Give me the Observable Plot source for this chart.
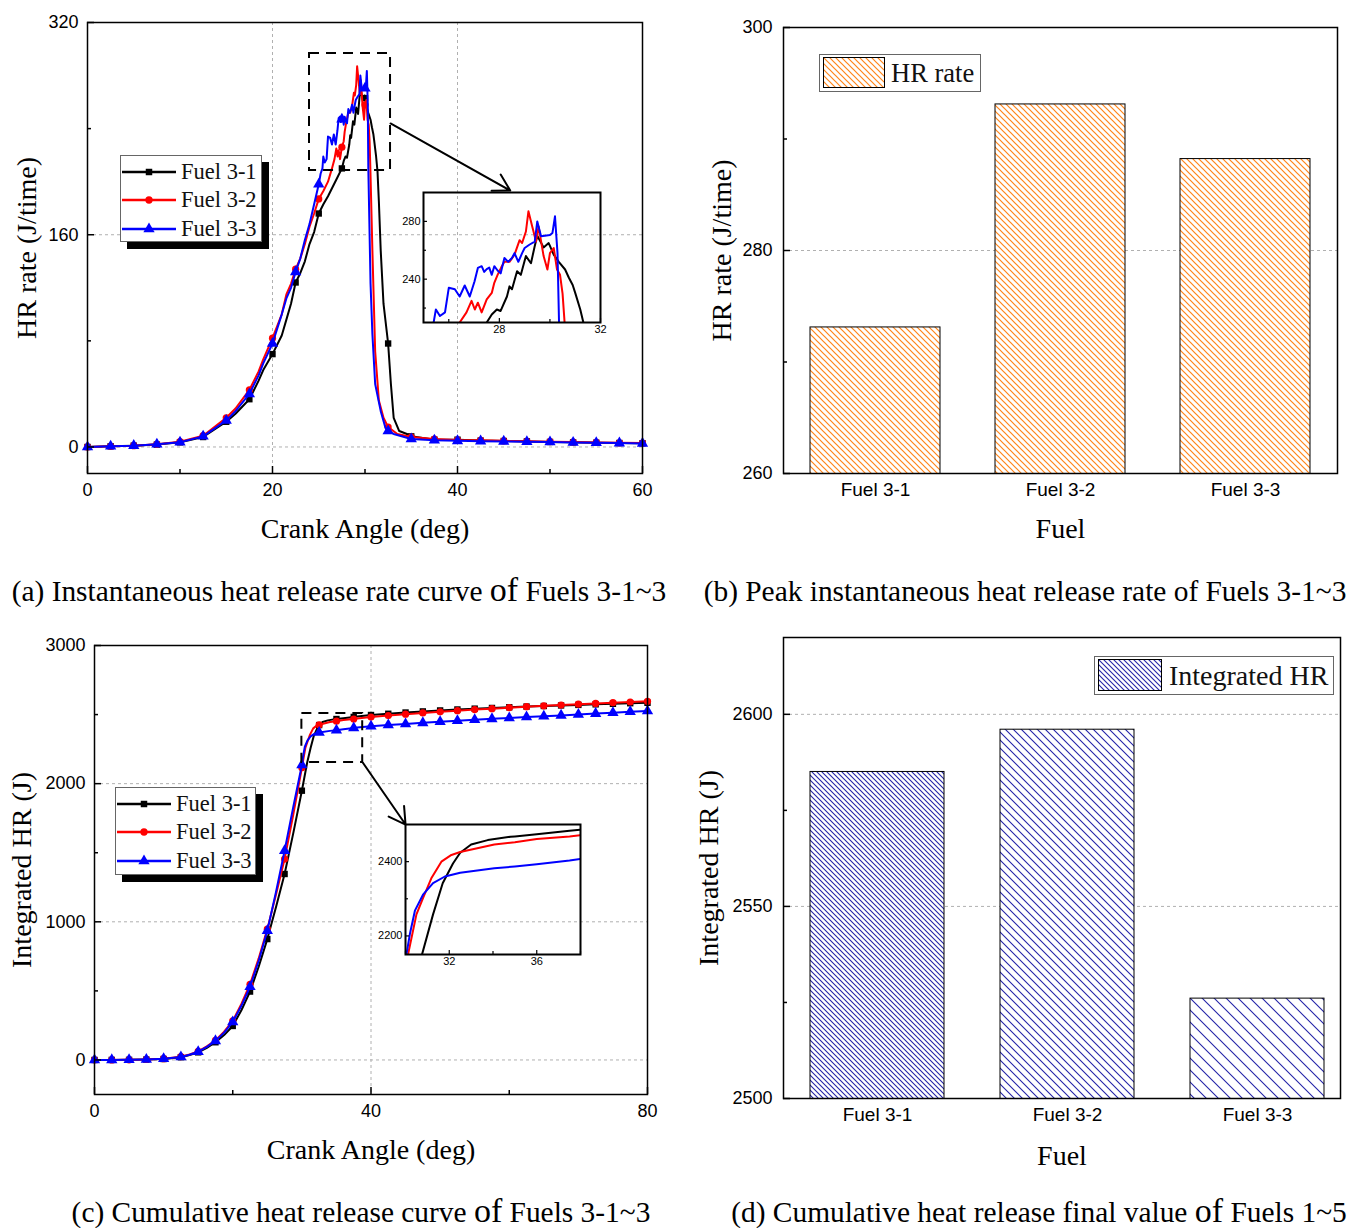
<!DOCTYPE html>
<html><head><meta charset="utf-8">
<script src="https://cdn.jsdelivr.net/npm/d3@7"></script>
<script src="https://cdn.jsdelivr.net/npm/@observablehq/plot@0.6"></script>
<style>
body{margin:0;background:#fff;}
#root{position:relative;width:1352px;height:1228px;overflow:hidden;background:#fff;}
.cap{position:absolute;font-family:"Liberation Serif","Times New Roman",serif;font-size:29.4px;line-height:30px;color:#000;white-space:nowrap;transform:translateX(-50%);}
.big{font-size:34px;line-height:0;}
.legend{position:absolute;box-sizing:border-box;background:#fff;border:1px solid #666;font-family:"Liberation Serif","Times New Roman",serif;color:#111;}
</style></head>
<body><div id="root"></div>
<script>
// ---------------- DATA ----------------
const fuels = ["Fuel 3-1", "Fuel 3-2", "Fuel 3-3"];
const colors = ["#000000", "#ff0000", "#0000ff"];
const symbols = ["square", "circle", "triangle"];

// (a) instantaneous heat release rate [crank angle (deg), HR rate (J/time)]
const hrRate31 = [[0,0],[2.5,0.5],[5,1],[7.5,1.8],[10,3.5],[12.5,7.5],[15,19],[16,25],[17.5,36],[18.5,50],[19,58],[20,70],[21,84],[21.5,96],[22,108],[22.5,124],[23,131],[23.5,140],[24,153],[24.5,162],[25,176],[25.5,183],[26,189],[26.5,196],[27,203],[27.5,210],[27.7,215.6],[27.9,219],[28.05,218],[28.3,228],[28.4,235],[28.5,233],[28.7,245.5],[28.85,243],[29.05,256],[29.25,251],[29.4,263],[29.5,270],[29.75,262],[29.95,265],[30,263],[30.15,257],[30.35,252],[30.6,246.7],[30.75,241],[30.9,236],[31,230.5],[31.2,219],[31.35,208],[31.5,185],[31.7,148],[32,108],[32.5,78],[32.8,47.5],[33.1,22],[33.7,12],[34.6,9.6],[35,8],[37.5,5.5],[40,5.5],[42.5,4.8],[45,4.5],[47.5,4.2],[50,3.8],[52.5,3.5],[55,3.2],[57.5,3],[60,2.8]];
const hrRate32 = [[0,0],[2.5,0.5],[5,1],[7.5,2],[10,4],[12.5,8.5],[15,22],[16,29],[17.5,43],[18.5,57],[19,66],[20,82],[21,100],[21.5,115],[22,123],[22.5,134],[23,142],[23.5,153],[24,166],[24.5,176],[25,187],[25.5,193],[26,200],[26.43,210],[26.7,217],[26.9,225],[27.03,219],[27.15,223.7],[27.3,217],[27.5,226],[27.7,230.5],[27.8,237.5],[27.93,243],[28.07,248],[28.2,252],[28.4,252],[28.6,257],[28.8,267],[28.9,265],[29.05,273],[29.15,287],[29.3,276.5],[29.45,266],[29.55,276.5],[29.75,256],[29.9,246.7],[30,258],[30.15,261.6],[30.28,246.7],[30.4,243],[30.5,230],[30.58,210],[30.8,148],[31.1,72],[31.5,35],[32,22],[32.5,15],[33.5,9.8],[35,7.5],[37.5,6],[40,5.2],[42.5,5],[45,4.6],[47.5,4.3],[50,4],[52.5,3.7],[55,3.4],[57.5,3.1],[60,3]];
const hrRate33 = [[0,0],[2.5,0.5],[5,1],[7.5,2],[10,3.5],[12.5,8],[15,20],[16,27],[17.5,40],[18.5,54],[19,63],[20,78],[21,100],[21.5,112],[22,120],[22.5,132],[23,142],[23.5,156],[24,168],[24.5,183],[25,198],[25.2,206],[25.4,210],[25.49,219],[25.65,214.5],[25.85,217],[26,234],[26.24,233],[26.43,228],[26.63,235.6],[26.83,228],[27.02,238.6],[27.15,247.8],[27.3,249],[27.4,245],[27.5,247],[27.6,248],[27.7,243],[27.8,249],[27.93,246],[28.05,244],[28.2,254.7],[28.35,252],[28.5,254.7],[28.6,258],[28.75,252],[28.9,258],[29,261.6],[29.2,264],[29.4,266],[29.5,280],[29.65,269.7],[29.8,270],[30,270.5],[30.1,272],[30.2,283.5],[30.3,258],[30.36,210],[30.6,123],[30.8,85],[31.1,47.5],[31.7,27],[32.2,14.6],[32.5,12],[33.1,9.8],[35,6],[37.5,5],[40,4.6],[42.5,4.4],[45,4.2],[47.5,4],[50,3.7],[52.5,3.4],[55,3.1],[57.5,2.9],[60,2.7]];

// (c) integrated heat release [crank angle (deg), integrated HR (J)]
const cumHR31 = [[0,0],[2.5,0.5],[5,1],[7.5,3],[10,7],[12.5,20],[13.75,35],[15,55],[16.25,88],[17.5,128],[18.75,180],[20,246],[21.25,360],[22.5,495],[23.75,675],[25,875],[26.25,1105],[27.5,1346],[28.75,1640],[30,1949],[30.76,2151],[31.26,2258],[31.7,2342],[32.17,2395],[32.5,2424],[33,2446],[33.76,2458],[34.8,2467],[35,2468],[36,2474],[37.5,2483],[38,2486],[40,2497],[42.5,2506],[45,2515],[47.5,2523],[50,2530],[52.5,2537],[55,2543],[57.5,2548],[60,2553],[62.5,2558],[65,2562],[67.5,2566],[70,2570],[72.5,2574],[75,2578],[77.5,2582],[80,2585]];
const cumHR32 = [[0,0],[2.5,0.5],[5,1],[7.5,3.5],[10,9],[12.5,24],[13.75,40],[15,62],[16.25,98],[17.5,142],[18.75,205],[20,283],[21.25,405],[22.5,548],[23.75,735],[25,947],[26.25,1195],[27.5,1454],[28.75,1775],[30,2115],[30.12,2151],[30.5,2258],[30.8,2302],[31.18,2355],[31.64,2400],[32.1,2418],[32.5,2426],[34.06,2446],[35,2452],[36,2461],[37.5,2468],[38,2471],[40,2482],[42.5,2493],[45,2503],[47.5,2512],[50,2520],[52.5,2528],[55,2536],[57.5,2543],[60,2550],[62.5,2557],[65,2563],[67.5,2569],[70,2575],[72.5,2581],[75,2586],[77.5,2591],[80,2596]];
const cumHR33 = [[0,0],[2.5,0.5],[5,1],[7.5,3.5],[10,8.5],[12.5,22],[13.75,38],[15,60],[16.25,95],[17.5,138],[18.75,198],[20,275],[21.25,392],[22.5,530],[23.75,718],[25,935],[26.25,1215],[27.5,1514],[28.75,1830],[30,2135],[30.2,2205],[30.43,2268],[30.8,2311],[31.26,2342],[31.8,2360],[32.5,2370],[34.06,2382],[35,2387],[36,2393],[37.5,2403],[38,2407],[40,2415],[42.5,2424],[45,2432],[47.5,2440],[50,2448],[52.5,2455],[55,2462],[57.5,2469],[60,2475],[62.5,2482],[65,2488],[67.5,2494],[70,2500],[72.5,2507],[75,2513],[77.5,2520],[80,2526]];

// (b) peak HR rate and (d) final integrated HR
const peakHR = [273.1, 293.1, 288.2];
const finalHR = [2585, 2596, 2526];

// zoom annotations (data coordinates of each main panel)
const zoomBoxA = [{x1: 24, x2: 32.76, y1: 208.4, y2: 296.6}];
const zoomArrowA = [{x1: 32.76, y1: 243.9, x2: 45.7, y2: 193.3}];
const zoomBoxC = [{x1: 30, x2: 38.8, y1: 2153, y2: 2508}];
const zoomArrowC = [{x1: 38.8, y1: 2153, x2: 45.0, y2: 1704}];

// tick values
const ticksA = {xMajor: [0, 20, 40, 60], xMinor: [10, 30, 50], yMajor: [0, 160, 320], yMinor: [80, 240]};
const ticksC = {xMajor: [0, 40, 80], xMinor: [20, 60], yMajor: [0, 1000, 2000, 3000], yMinor: [500, 1500, 2500]};
const ticksB = {yMajor: [260, 280, 300], yMinor: [270, 290]};
const ticksD = {yMajor: [2500, 2550, 2600], yMinor: [2525, 2575]};
const ticksInsetA = {xMajor: [28, 32], xMinor: [26, 30], yMajor: [240, 280], yMinor: [220, 260]};
const ticksInsetC = {xMajor: [32, 36], xMinor: [30, 34, 38], yMajor: [2200, 2400], yMinor: [2300]};

// ---------------- BUILD ----------------
const root = document.getElementById("root");
const serif = '"Liberation Serif","Times New Roman",serif';
const sans = '"Liberation Sans",Arial,sans-serif';
const fmt = d3.format("d");

const toTable = (arrs) => fuels.flatMap((f, i) => arrs[i].map(([x, y]) => ({fuel: f, x, y})));
const hrTable = toTable([hrRate31, hrRate32, hrRate33]);
const cumTable = toTable([cumHR31, cumHR32, cumHR33]);
const onStep = (x) => Math.abs(x / 2.5 - Math.round(x / 2.5)) < 1e-6;

root.insertAdjacentHTML("beforeend", `
<svg width="0" height="0" style="position:absolute">
 <defs>
  <pattern id="hatchO" patternUnits="userSpaceOnUse" width="6" height="6">
    <rect width="6" height="6" fill="#fff"/>
    <path d="M-1,-1L7,7M-1,5L1,7M5,-1L7,1" stroke="#ff8519" stroke-width="1.2"/>
  </pattern>
  <pattern id="hatchB1" patternUnits="userSpaceOnUse" width="5" height="5">
    <rect width="5" height="5" fill="#fff"/>
    <path d="M-1,-1L6,6M-1,4L1,6M4,-1L6,1" stroke="#2424a8" stroke-width="1.1"/>
  </pattern>
  <pattern id="hatchB2" patternUnits="userSpaceOnUse" width="8" height="8">
    <rect width="8" height="8" fill="#fff"/>
    <path d="M-1,-1L9,9M-1,7L1,9M7,-1L9,1" stroke="#2424a8" stroke-width="1.1"/>
  </pattern>
  <pattern id="hatchB3" patternUnits="userSpaceOnUse" width="12" height="12">
    <rect width="12" height="12" fill="#fff"/>
    <path d="M-1,-1L13,13M-1,11L1,13M11,-1L13,1" stroke="#2424a8" stroke-width="1.1"/>
  </pattern>
 </defs>
</svg>`);

function place(node, left, top) {
  node.style.position = "absolute";
  node.style.left = left + "px";
  node.style.top = top + "px";
  root.appendChild(node);
}

const gridOpts = {stroke: "#b0b0b0", strokeOpacity: 1, strokeDasharray: "3,3", strokeWidth: 1};
const plotStyle = {fontFamily: sans, color: "#000", background: "transparent", overflow: "visible"};

function axisMarks(t, {fs = 18, xPad, yPad, maj = 7, min = 4, sw = 1.5}) {
  const m = [];
  if (t.xMajor) m.push(Plot.axisX(t.xMajor, {tickSize: -maj, tickPadding: xPad, fontSize: fs, tickFormat: fmt, label: null, strokeWidth: sw}));
  if (t.xMinor) m.push(Plot.axisX(t.xMinor, {tickSize: -min, tickFormat: () => "", label: null, strokeWidth: sw}));
  m.push(Plot.axisY(t.yMajor, {tickSize: -maj, tickPadding: yPad, fontSize: fs, tickFormat: fmt, label: null, strokeWidth: sw}));
  if (t.yMinor) m.push(Plot.axisY(t.yMinor, {tickSize: -min, tickFormat: () => "", label: null, strokeWidth: sw}));
  return m;
}

function seriesMarks(table, {markers = true, clip = false, sw = 2}) {
  const m = [];
  fuels.forEach((f, i) => {
    const d = table.filter((r) => r.fuel === f);
    m.push(Plot.line(d, {x: "x", y: "y", stroke: colors[i], strokeWidth: sw, clip}));
    if (markers) m.push(Plot.dot(d.filter((r) => onStep(r.x)), {x: "x", y: "y", symbol: symbols[i], r: i === 2 ? 4.2 : 3.6, fill: colors[i], stroke: "none", clip}));
  });
  return m;
}

function titles(yTitle, dxY, xTitle, dyX) {
  return [
    Plot.text([yTitle], {text: (d) => d, frameAnchor: "left", rotate: -90, dx: dxY, fontSize: 28, fontFamily: serif, textAnchor: "middle", lineAnchor: "middle", fill: "#000"}),
    Plot.text([xTitle], {text: (d) => d, frameAnchor: "bottom", dy: dyX, fontSize: 28, fontFamily: serif, textAnchor: "middle", lineAnchor: "middle", fill: "#000"})
  ];
}

// ----- (a) -----
const plotA = Plot.plot({
  width: 670, height: 560, marginLeft: 87, marginRight: 28, marginTop: 22, marginBottom: 87,
  x: {domain: [0, 60]}, y: {domain: [-20, 320]},
  style: plotStyle,
  marks: [
    Plot.gridX([20, 40], gridOpts),
    Plot.gridY([0, 160], gridOpts),
    ...seriesMarks(hrTable, {}),
    Plot.rect(zoomBoxA, {x1: "x1", x2: "x2", y1: "y1", y2: "y2", fill: "none", stroke: "#000", strokeWidth: 2, strokeDasharray: "10,7"}),
    Plot.arrow(zoomArrowA, {x1: "x1", y1: "y1", x2: "x2", y2: "y2", stroke: "#000", strokeWidth: 2, headLength: 14}),
    Plot.frame({stroke: "#000", strokeWidth: 1.5}),
    ...axisMarks(ticksA, {xPad: 17, yPad: 16}),
    ...titles("HR rate (J/time)", -60, "Crank Angle (deg)", 56)
  ]
});
place(plotA, 0, 0);

const insetA = Plot.plot({
  width: 215, height: 165, marginLeft: 23, marginRight: 15, marginTop: 12, marginBottom: 23,
  x: {domain: [25, 32]}, y: {domain: [210, 300]},
  style: plotStyle,
  marks: [
    ...seriesMarks(hrTable, {markers: false, clip: true, sw: 2}),
    Plot.frame({stroke: "#000", strokeWidth: 2}),
    ...axisMarks(ticksInsetA, {fs: 11, xPad: 7, yPad: 7, maj: 4, min: 3, sw: 1.2})
  ]
});
place(insetA, 400, 180);

// ----- (c) -----
const plotC = Plot.plot({
  width: 670, height: 560, marginLeft: 94, marginRight: 23, marginTop: 25, marginBottom: 86,
  x: {domain: [0, 80]}, y: {domain: [-250, 3000]},
  style: plotStyle,
  marks: [
    Plot.gridX([40], gridOpts),
    Plot.gridY([0, 1000, 2000], gridOpts),
    ...seriesMarks(cumTable, {}),
    Plot.rect(zoomBoxC, {x1: "x1", x2: "x2", y1: "y1", y2: "y2", fill: "none", stroke: "#000", strokeWidth: 2, strokeDasharray: "10,7"}),
    Plot.arrow(zoomArrowC, {x1: "x1", y1: "y1", x2: "x2", y2: "y2", stroke: "#000", strokeWidth: 2, headLength: 14}),
    Plot.frame({stroke: "#000", strokeWidth: 1.5}),
    ...axisMarks(ticksC, {xPad: 17, yPad: 16}),
    ...titles("Integrated HR (J)", -72, "Crank Angle (deg)", 56)
  ]
});
place(plotC, 0, 620);

const insetC = Plot.plot({
  width: 215, height: 160, marginLeft: 25, marginRight: 15, marginTop: 12, marginBottom: 18,
  x: {domain: [30, 38]}, y: {domain: [2150, 2500]},
  style: plotStyle,
  marks: [
    ...seriesMarks(cumTable, {markers: false, clip: true, sw: 2}),
    Plot.frame({stroke: "#000", strokeWidth: 2}),
    ...axisMarks(ticksInsetC, {fs: 11, xPad: 7, yPad: 7, maj: 4, min: 3, sw: 1.2})
  ]
});
place(insetC, 380, 812);

// ----- (b) -----
const barsB = fuels.map((f, i) => ({fuel: f, value: peakHR[i], pattern: "url(#hatchO)"}));
const plotB = Plot.plot({
  width: 672, height: 560, marginLeft: 103, marginRight: 15, marginTop: 27, marginBottom: 87,
  x: {type: "band", domain: fuels, paddingInner: 0.3, paddingOuter: 0.14},
  y: {domain: [260, 300]},
  color: {type: "identity"},
  style: plotStyle,
  marks: [
    Plot.gridY([280], gridOpts),
    Plot.barY(barsB, {x: "fuel", y: "value", fill: "pattern", stroke: "#000", strokeWidth: 1, clip: true}),
    Plot.frame({stroke: "#000", strokeWidth: 1.5}),
    Plot.axisX({tickSize: 0, tickPadding: 9, fontSize: 19, label: null}),
    ...axisMarks(ticksB, {yPad: 18}),
    ...titles("HR rate (J/time)", -61, "Fuel", 56)
  ]
});
place(plotB, 680, 0);

// ----- (d) -----
const barsD = fuels.map((f, i) => ({fuel: f, value: finalHR[i], pattern: `url(#hatchB${i + 1})`}));
const plotD = Plot.plot({
  width: 672, height: 560, marginLeft: 103, marginRight: 12, marginTop: 17, marginBottom: 82,
  x: {type: "band", domain: fuels, paddingInner: 0.297, paddingOuter: 0.11, align: 0.62},
  y: {domain: [2500, 2620]},
  color: {type: "identity"},
  style: plotStyle,
  marks: [
    Plot.gridY([2550, 2600], gridOpts),
    Plot.barY(barsD, {x: "fuel", y: "value", fill: "pattern", stroke: "#000", strokeWidth: 1, clip: true}),
    Plot.frame({stroke: "#000", strokeWidth: 1.5}),
    Plot.axisX({tickSize: 0, tickPadding: 9, fontSize: 19, label: null}),
    ...axisMarks(ticksD, {yPad: 18}),
    ...titles("Integrated HR (J)", -74, "Fuel", 58)
  ]
});
place(plotD, 680, 620);

// ----- legends -----
const d3Sym = [d3.symbolSquare, d3.symbolCircle, d3.symbolTriangle];
function lineLegend(left, top, w, h, rowYs, textLeft) {
  const box = document.createElement("div");
  box.className = "legend";
  Object.assign(box.style, {left: left + "px", top: top + "px", width: w + "px", height: h + "px", boxShadow: "7px 7px 0 #000"});
  fuels.forEach((f, i) => {
    const svg = d3.create("svg").attr("width", 58).attr("height", 28)
      .style("position", "absolute").style("left", "0px").style("top", (rowYs[i] - 14) + "px");
    svg.append("line").attr("x1", 1).attr("x2", 55).attr("y1", 14).attr("y2", 14).attr("stroke", colors[i]).attr("stroke-width", 2.5);
    svg.append("path").attr("transform", "translate(28,14)").attr("d", d3.symbol(d3Sym[i], i === 2 ? 55 : 42)()).attr("fill", colors[i]);
    box.appendChild(svg.node());
    const t = document.createElement("span");
    t.textContent = f;
    Object.assign(t.style, {position: "absolute", left: textLeft + "px", top: (rowYs[i] - 14) + "px", lineHeight: "28px", fontSize: "22.5px", whiteSpace: "nowrap"});
    box.appendChild(t);
  });
  root.appendChild(box);
}
lineLegend(120, 155, 142, 87, [16, 44, 73], 60);
lineLegend(115, 787, 141, 88, [16, 44, 73], 60);

function barLegend(left, top, w, h, sw, sh, pattern, label, fs, textLeft) {
  const box = document.createElement("div");
  box.className = "legend";
  Object.assign(box.style, {left: left + "px", top: top + "px", width: w + "px", height: h + "px"});
  const svg = d3.create("svg").attr("width", sw).attr("height", sh)
    .style("position", "absolute").style("left", "3px").style("top", "2px");
  svg.append("rect").attr("x", 0.5).attr("y", 0.5).attr("width", sw - 1).attr("height", sh - 1)
    .attr("fill", pattern).attr("stroke", "#000").attr("stroke-width", 1);
  box.appendChild(svg.node());
  const t = document.createElement("span");
  t.textContent = label;
  Object.assign(t.style, {position: "absolute", left: textLeft + "px", top: "0px", lineHeight: (h - 2) + "px", fontSize: fs + "px", whiteSpace: "nowrap"});
  box.appendChild(t);
  root.appendChild(box);
}
barLegend(819, 54, 162, 38, 62, 31, "url(#hatchO)", "HR rate", 26.5, 71);
barLegend(1094, 656, 240, 39, 64, 32, "url(#hatchB1)", "Integrated HR", 28, 74);

// ----- captions -----
function caption(cx, cy, html) {
  const d = document.createElement("div");
  d.className = "cap";
  d.innerHTML = html;
  d.style.left = cx + "px";
  d.style.top = (cy - 15) + "px";
  root.appendChild(d);
}
caption(339, 591, '(a) Instantaneous heat release rate curve <span class="big">of</span> Fuels 3-1~3');
caption(1025, 591, '(b) Peak instantaneous heat release rate of Fuels 3-1~3');
caption(361, 1212, '(c) Cumulative heat release curve <span class="big">of</span> Fuels 3-1~3');
caption(1039, 1212, '(d) Cumulative heat release final value <span class="big">of</span> Fuels 1~5');
</script></body></html>
